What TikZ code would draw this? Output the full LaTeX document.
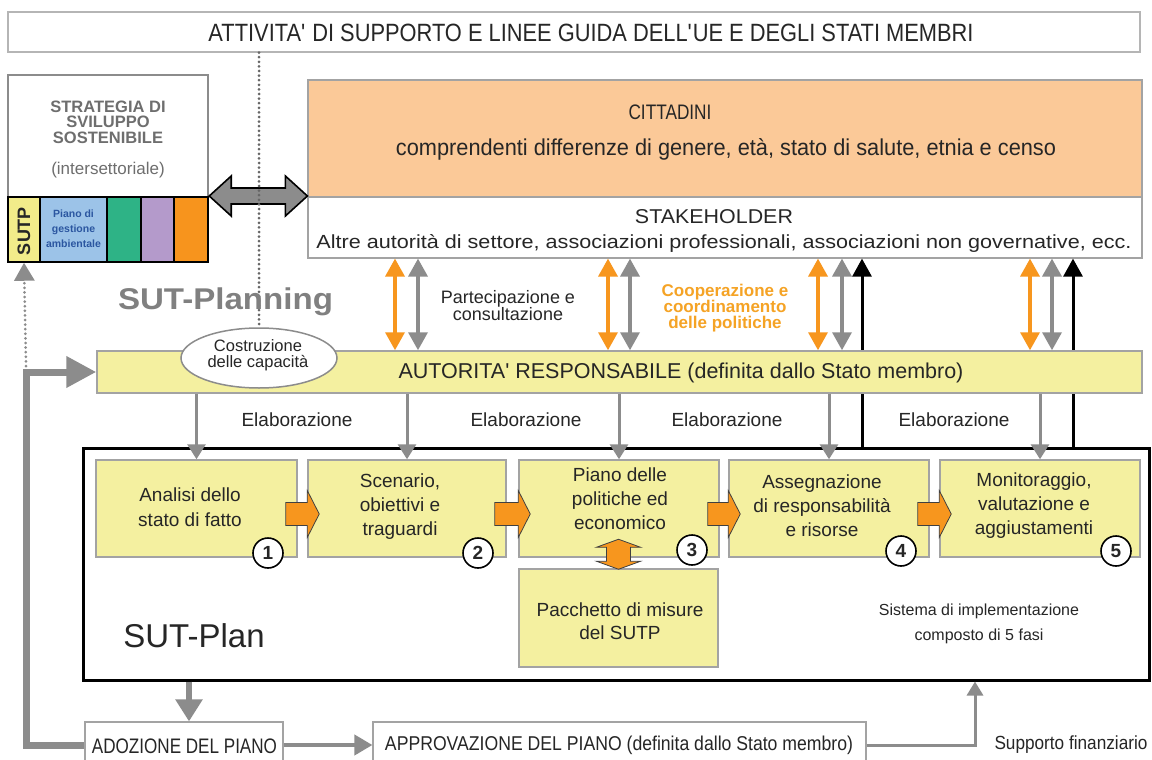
\documentclass[tikz,border=0pt]{standalone}
\usepackage{fontspec}
\usepackage{graphicx}
\setmainfont{Liberation Sans}
\newfontfamily\nar[FakeStretch=0.82]{Liberation Sans}
\usetikzlibrary{arrows.meta,shapes.geometric,calc}
\newcommand\fw[2]{\resizebox{#1}{\height}{#2}}
\newcommand\fsz[2]{\fontsize{#1}{#2}\selectfont}
\newcommand\ap{\textquotesingle}
\definecolor{pyel}{HTML}{F4F0A0}
\definecolor{cit}{HTML}{FBC998}
\definecolor{oarr}{HTML}{F7961E}
\definecolor{otxt}{HTML}{F5A325}
\definecolor{garr}{HTML}{8C8C8C}
\definecolor{bdr}{HTML}{A3A3A3}
\definecolor{txt}{HTML}{262626}
\definecolor{gtxt}{HTML}{6E6E6E}
\definecolor{sutpy}{HTML}{F2EC8A}
\definecolor{blu}{HTML}{9CC3E8}
\definecolor{grn}{HTML}{2EB386}
\definecolor{pur}{HTML}{B49ACB}
\definecolor{org}{HTML}{F7941D}
\definecolor{pblue}{HTML}{2B56A0}
\begin{document}
\begin{tikzpicture}[x=1pt,y=-1pt,
  tn/.style={text=txt, inner sep=0pt, align=center},
  ybox/.style={draw=bdr, line width=1.5pt, fill=pyel, inner sep=0pt},
  wbox/.style={draw=bdr, line width=1.2pt, fill=white, inner sep=0pt},
  cell/.style={draw=black, line width=1.5pt, inner sep=0pt, minimum height=65pt},
  sarr/.style={fill=oarr, draw=black!75, line width=0.8pt, line join=miter},
  oda/.style={draw=oarr, line width=3.5pt, {Triangle[length=18pt,width=19pt]}-{Triangle[length=18pt,width=19pt]}},
  gda/.style={draw=garr, line width=3.5pt, {Triangle[length=18pt,width=19pt]}-{Triangle[length=18pt,width=19pt]}},
  barr/.style={draw=black, line width=3pt, -{Triangle[length=18pt,width=19pt]}},
  earr/.style={draw=garr, line width=3pt, -{Triangle[length=15pt,width=18pt]}},
  circ/.style={circle, draw=black, line width=1.6pt, fill=white, minimum size=30pt, inner sep=0pt, text=txt, font=\bfseries\fsz{19}{19}},
  dotl/.style={line width=3pt, line cap=round, dash pattern=on 0pt off 4.6pt}
]
\useasboundingbox (0,0) rectangle (1152,760);
\fill[white] (0,0) rectangle (1152,760);

% top banner
\node[draw=bdr!80, line width=1.2pt, fill=white, minimum width=1132pt, minimum height=40pt, inner sep=0pt] (banner) at (574,32) {};
\node[tn] (bannert) at (591,33) {\nar\fsz{25}{30}\fw{765pt}{ATTIVITA\ap{} DI SUPPORTO E LINEE GUIDA DELL\ap UE E DEGLI STATI MEMBRI}};

% strategy box
\node[draw=garr, line width=2.5pt, fill=white, minimum width=200pt, minimum height=122pt, inner sep=0pt] (strat) at (108,136) {};
\node[tn, text=gtxt, font=\bfseries\fsz{16.5}{15.5}] (stratt) at (108,122) {STRATEGIA DI\\SVILUPPO\\SOSTENIBILE};
\node[tn, text=gtxt, font=\fsz{17}{17}] (inters) at (108,170) {(intersettoriale)};
\node[cell, fill=sutpy, minimum width=32pt] (sutp) at (24,229.5) {};
\node[cell, fill=blu, minimum width=67pt] (pge) at (73.5,229.5) {};
\node[cell, fill=grn, minimum width=34pt] (cg) at (124,229.5) {};
\node[cell, fill=pur, minimum width=33pt] (cp) at (157.5,229.5) {};
\node[cell, fill=org, minimum width=34pt] (co) at (191,229.5) {};
\node[tn, rotate=90, font=\bfseries\fsz{18}{18}] (sutpt) at (24,231) {SUTP};
\node[tn, text=pblue, font=\bfseries\fsz{10.5}{15}] (pget) at (73.5,229) {Piano di\\gestione\\ambientale};

% cittadini / stakeholder
\node[draw=bdr, line width=1.2pt, fill=cit, minimum width=834pt, minimum height=117pt, inner sep=0pt] (citt) at (725,138.5) {};
\node[wbox, minimum width=834pt, minimum height=61pt] (stake) at (725,227.5) {};
\node[tn] (cittt) at (670,112) {\nar\fsz{21}{24}CITTADINI};
\node[tn] (cittd) at (726,149) {\nar\fsz{23}{26}\fw{660pt}{comprendenti differenze di genere, età, stato di salute, etnia e censo}};
\node[tn] (staket) at (714,217) {\nar\fsz{20}{24}\fw{158pt}{STAKEHOLDER}};
\node[tn] (staked) at (724,243) {\nar\fsz{19}{22}\fw{815pt}{Altre autorità di settore, associazioni professionali, associazioni non governative, ecc.}};

% gray double arrow
\coordinate (dl) at (strat.east |- 0,196);
\coordinate (dr) at (citt.west |- 0,196);
\draw[fill=garr, draw=black, line width=1.6pt, line join=miter] (dl) -- ++(22,-20) -- ++(0,12) -- ($(dr)+(-22,-8)$) -- ++(0,-12) -- (dr) -- ++(-22,20) -- ++(0,-12) -- ($(dl)+(22,8)$) -- ++(0,12) -- cycle;

% SUT-Plan frame
\node[draw=black, line width=3pt, minimum width=1066pt, minimum height=232pt, inner sep=0pt] (plan) at (616,564) {};

% black arrows up to stakeholder
\foreach \xx in {862,1073} \draw[barr] (\xx,0 |- plan.north) -- (\xx,0 |- stake.south);

% autorita
\node[ybox, line width=1.5pt, minimum width=1045pt, minimum height=42pt] (auto) at (619.5,372) {};
\node[tn] (autot) at (681,373) {\fsz{21.5}{24}AUTORITA\ap{} RESPONSABILE (definita dallo Stato membro)};

% ellipse
\node[ellipse, draw=garr, line width=1.5pt, fill=white, minimum width=156pt, minimum height=60pt, inner sep=0pt] (ell) at (259,358) {};
\node[tn, font=\fsz{16.5}{16}] (ellt) at (258,355) {Costruzione\\delle capacità};

% dotted vertical line
\draw[dotl, draw=black!60] (ell.north |- banner.south) -- (ell.north);

% SUT-Planning
\node[tn, text=black!50] (planning) at (225.5,302) {\bfseries\fsz{30}{32}\fw{215pt}{SUT-Planning}};

% stakeholder arrows
\foreach \xx in {395,608,818,1030} \draw[oda] (\xx,0 |- stake.south) -- (\xx,0 |- auto.north);
\foreach \xx in {418,630,842,1052} \draw[gda] (\xx,0 |- stake.south) -- (\xx,0 |- auto.north);
\node[tn, font=\fsz{18}{17}] (part) at (508,306) {Partecipazione e\\consultazione};
\node[tn, text=otxt, font=\bfseries\fsz{17}{16}] (coop) at (725,308) {Cooperazione e\\coordinamento\\delle politiche};

% steps
\node[ybox, minimum width=201pt, minimum height=97pt] (s1) at (196.5,508.5) {};
\node[ybox, minimum width=198pt, minimum height=97pt] (s2) at (407,508.5) {};
\node[ybox, minimum width=200pt, minimum height=97pt] (s3) at (619,508.5) {};
\node[ybox, minimum width=200pt, minimum height=97pt] (s4) at (829,508.5) {};
\node[ybox, minimum width=200pt, minimum height=97pt] (s5) at (1040,508.5) {};
\node[ybox, minimum width=199pt, minimum height=98pt] (pk) at (618.5,618) {};

\node[tn, font=\fsz{19}{25}] (s1t) at (190,507) {Analisi dello\\stato di fatto};
\node[tn, font=\fsz{19}{24}] (s2t) at (400,507) {Scenario,\\obiettivi e\\traguardi};
\node[tn, font=\fsz{19}{24}] (s3t) at (620,499) {Piano delle\\politiche ed\\economico};
\node[tn, font=\fsz{19}{24}] (s4t) at (822,506) {Assegnazione\\di responsabilità\\e risorse};
\node[tn, font=\fsz{19}{24}] (s5t) at (1034,506) {Monitoraggio,\\valutazione e\\aggiustamenti};
\node[tn, font=\fsz{19}{23}] (pkt) at (620,621) {Pacchetto di misure\\del SUTP};

% elaborazione arrows
\foreach \s in {s1,s2,s3,s4,s5} \draw[earr] (\s.north |- auto.south) -- (\s.north);
\node[tn, font=\fsz{19}{19}] (e1) at (297,420) {Elaborazione};
\node[tn, font=\fsz{19}{19}] (e2) at (526,420) {Elaborazione};
\node[tn, font=\fsz{19}{19}] (e3) at (727,420) {Elaborazione};
\node[tn, font=\fsz{19}{19}] (e4) at (954,420) {Elaborazione};

% orange step arrows
\foreach \a/\b in {s1/s2,s2/s3,s3/s4,s4/s5}
  \draw[sarr] ($(\a.east)+(-12,-6)$) -- ($(\b.west)+(0,-6)$) -- ($(\b.west)+(0,-18)$) -- ($(\b.west)+(12,5.5)$) -- ($(\b.west)+(0,29)$) -- ($(\b.west)+(0,17)$) -- ($(\a.east)+(-12,17)$) -- cycle;
% vertical double arrow s3 <-> package
\draw[sarr] ($(pk.north)+(0,-29)$) -- ++(22,8) -- ++(-10,0) -- ++(0,14) -- ++(10,0) -- ++(-22,8) -- ++(-22,-8) -- ++(10,0) -- ++(0,-14) -- ++(-10,0) -- cycle;

% numbers
\node[circ] (c1) at (268,553) {1};
\node[circ] (c2) at (478,553) {2};
\node[circ] (c3) at (692,550) {3};
\node[circ] (c4) at (901,551) {4};
\node[circ] (c5) at (1116,551) {5};

\node[tn, font=\fsz{33}{36}] (plant) at (194,636) {SUT-Plan};
\node[tn, font=\fsz{16}{25}] (sist) at (979,624) {Sistema di implementazione\\composto di 5 fasi};

% bottom boxes
\node[wbox, minimum width=198pt, minimum height=46pt] (adoz) at (184,745) {};
\node[wbox, minimum width=493pt, minimum height=46pt] (approv) at (619.5,745) {};
\node[tn] (adozt) at (184.5,746) {\nar\fsz{21}{24}\fw{185pt}{ADOZIONE DEL PIANO}};
\node[tn] (approvt) at (619,745) {\nar\fsz{20}{24}\fw{468pt}{APPROVAZIONE DEL PIANO (definita dallo Stato membro)}};
\node[tn] (supp) at (1071,745) {\nar\fsz{19}{22}\fw{153pt}{Supporto finanziario}};

% bottom connectors
\draw[draw=garr, line width=6pt, -{Triangle[length=22pt,width=26pt]}] (189,0 |- plan.south) -- (189,0 |- adoz.north);
\draw[draw=garr, line width=4pt, -{Triangle[length=18pt,width=20pt]}] (adoz.east) -- (approv.west);
\draw[draw=garr, line width=3pt, -{Triangle[length=14pt,width=16pt]}] (approv.east) -| (975,0 |- plan.south);

% left loop
\draw[draw=garr, line width=7pt, line join=miter, -{Triangle[length=30pt,width=30pt]}] (adoz.west) -- (26,0 |- adoz.west) -- (26,0 |- auto.west) -- (auto.west);
\coordinate (dots) at (26,366);
\draw[dotl, draw=garr, -{Triangle[length=18pt,width=20pt]}] (dots) -- (sutp.south);
\end{tikzpicture}
\end{document}
